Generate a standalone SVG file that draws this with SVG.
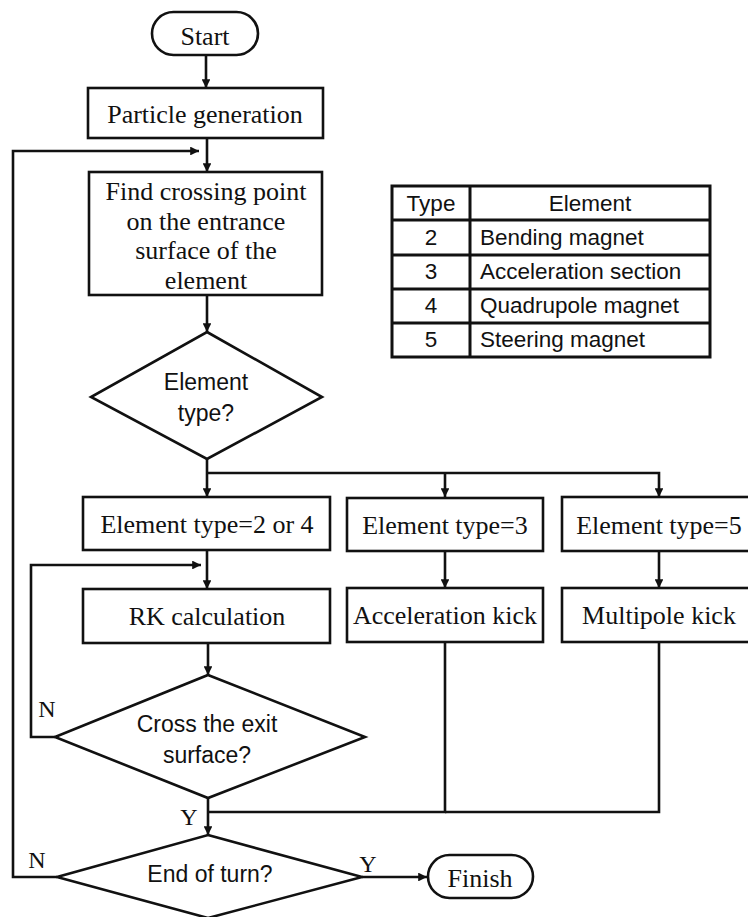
<svg xmlns="http://www.w3.org/2000/svg" width="748" height="917" viewBox="0 0 748 917">
<style>
.s{fill:#fff;stroke:#111;stroke-width:2.6}
.c{fill:none;stroke:#111;stroke-width:2.6}
.t{font-family:"Liberation Serif","Times New Roman",serif;font-size:26px;fill:#111;text-anchor:middle}
.a{font-family:"Liberation Sans",Arial,sans-serif;font-size:23px;fill:#111;text-anchor:middle}
.l{font-family:"Liberation Serif","Times New Roman",serif;font-size:24px;fill:#111;text-anchor:middle}
.tb{fill:none;stroke:#111;stroke-width:3}
.tt{font-family:"Liberation Sans",Arial,sans-serif;font-size:22.5px;fill:#111}
</style>
<defs>
<marker id="ah" viewBox="0 0 10 10" refX="10" refY="5" markerWidth="3.4" markerHeight="3.4" markerUnits="strokeWidth" orient="auto">
<path d="M0,0 L10,5 L0,10 Z" fill="#111"/>
</marker>
</defs>
<rect width="748" height="917" fill="#fff"/>
<g id="connectors">
<path class="c" d="M206,55 V88" marker-end="url(#ah)"/>
<path class="c" d="M207,138 V172" marker-end="url(#ah)"/>
<path class="c" d="M57,877 H13 V151 H199" marker-end="url(#ah)"/>
<path class="c" d="M207,295 V332" marker-end="url(#ah)"/>
<path class="c" d="M207,459 V497" marker-end="url(#ah)"/>
<path class="c" d="M207,473 H659 V497" marker-end="url(#ah)"/>
<path class="c" d="M445,473 V497" marker-end="url(#ah)"/>
<path class="c" d="M207,550 V589" marker-end="url(#ah)"/>
<path class="c" d="M55,737 H31 V565 H201" marker-end="url(#ah)"/>
<path class="c" d="M208,643 V675" marker-end="url(#ah)"/>
<path class="c" d="M445,551 V588" marker-end="url(#ah)"/>
<path class="c" d="M659,551 V588" marker-end="url(#ah)"/>
<path class="c" d="M208,798 V835" marker-end="url(#ah)"/>
<path class="c" d="M445,642 V812 H208"/>
<path class="c" d="M659,642 V812 H445"/>
<path class="c" d="M362,877 H427" marker-end="url(#ah)"/>
</g>
<g id="start">
<rect class="s" x="152" y="12" width="106" height="43" rx="21.5"/>
<text class="t" x="205" y="45">Start</text>
</g>
<g id="particle-generation">
<rect class="s" x="88" y="88" width="235" height="50"/>
<text class="t" x="205" y="123">Particle generation</text>
</g>
<g id="find-crossing">
<rect class="s" x="89" y="172" width="233" height="123"/>
<text class="t" x="206" y="200">Find crossing point</text>
<text class="t" x="206" y="229.5">on the entrance</text>
<text class="t" x="206" y="259">surface of the</text>
<text class="t" x="206" y="289">element</text>
</g>
<g id="type-table">
<rect class="tb" x="392" y="186" width="318" height="171"/>
<path class="tb" d="M470,186 V357 M392,220 H710 M392,255 H710 M392,289 H710 M392,323 H710"/>
<text class="tt" x="431" y="211" text-anchor="middle">Type</text>
<text class="tt" x="590" y="211" text-anchor="middle">Element</text>
<text class="tt" x="431" y="245" text-anchor="middle">2</text>
<text class="tt" x="480" y="245">Bending magnet</text>
<text class="tt" x="431" y="279" text-anchor="middle">3</text>
<text class="tt" x="480" y="279">Acceleration section</text>
<text class="tt" x="431" y="313" text-anchor="middle">4</text>
<text class="tt" x="480" y="313">Quadrupole magnet</text>
<text class="tt" x="431" y="347" text-anchor="middle">5</text>
<text class="tt" x="480" y="347">Steering magnet</text>
</g>
<g id="element-type-decision">
<polygon class="s" points="207,332 322,397 207,459 91,397"/>
<text class="a" x="206" y="390">Element</text>
<text class="a" x="206" y="421">type?</text>
</g>
<g id="type-2-4">
<rect class="s" x="83" y="497" width="247" height="53"/>
<text class="t" x="207" y="533">Element type=2 or 4</text>
</g>
<g id="type-3">
<rect class="s" x="347" y="498" width="196" height="53"/>
<text class="t" x="445" y="534">Element type=3</text>
</g>
<g id="type-5">
<rect class="s" x="562" y="497" width="192" height="54"/>
<text class="t" x="659" y="534">Element type=5</text>
</g>
<g id="rk-calculation">
<rect class="s" x="83" y="589" width="247" height="54"/>
<text class="t" x="207" y="625">RK calculation</text>
</g>
<g id="acceleration-kick">
<rect class="s" x="347" y="588" width="196" height="54"/>
<text class="t" x="445" y="624">Acceleration kick</text>
</g>
<g id="multipole-kick">
<rect class="s" x="562" y="588" width="192" height="54"/>
<text class="t" x="659" y="624">Multipole kick</text>
</g>
<g id="cross-exit-decision">
<polygon class="s" points="208,675 365,737 208,798 55,737"/>
<text class="a" x="207" y="732">Cross the exit</text>
<text class="a" x="207" y="763">surface?</text>
</g>
<g id="end-of-turn-decision">
<polygon class="s" points="208,835 362,877 208,918 57,877"/>
<text class="a" x="210" y="882">End of turn?</text>
</g>
<g id="finish">
<rect class="s" x="428" y="855" width="105" height="43" rx="21.5"/>
<text class="t" x="480" y="887">Finish</text>
</g>
<g id="labels">
<text class="l" x="47" y="717">N</text>
<text class="l" x="189" y="825">Y</text>
<text class="l" x="37" y="868">N</text>
<text class="l" x="368" y="872">Y</text>
</g>
</svg>
